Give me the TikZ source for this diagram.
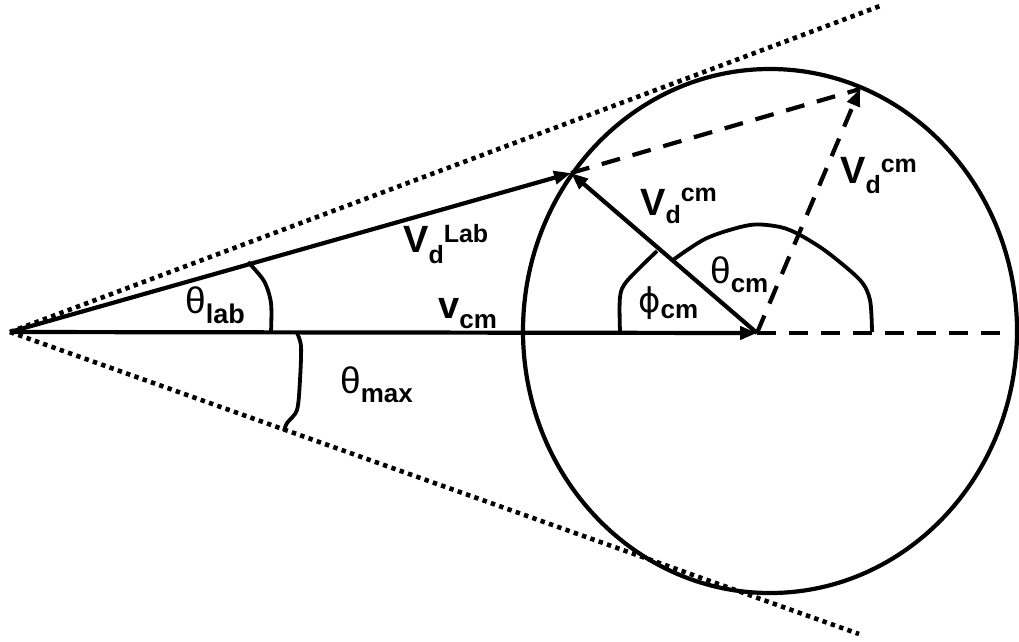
\documentclass[tikz,border=0pt]{standalone}
\usepackage{fontspec}
\setmainfont{Liberation Sans}
\newfontfamily\dejavu{DejaVu Sans}
\usetikzlibrary{arrows.meta}
\newcommand\fsz[1]{\fontsize{#1}{#1}\selectfont}
\tikzset{
  solidline/.style={line width=4.2pt},
  dashline/.style={line width=4.2pt, dash pattern=on 19pt off 13pt},
  dotline/.style={line width=4.6pt, dash pattern=on 4.4pt off 4.4pt},
  arcline/.style={line width=3.8pt, line join=round},
  tip/.style={-{Triangle[length=17pt,width=13pt]}},
  lbl/.style={anchor=base west, inner sep=0pt, font=\fsz{38}\bfseries},
}
\begin{document}
\begin{tikzpicture}[x=1pt,y=-1pt]
\useasboundingbox (0,0) rectangle (1019,641);
\coordinate (O) at (10,332);
\coordinate (C) at (757,333);
\coordinate (P) at (571,173);
\coordinate (Q) at (860,89);
\coordinate (E) at (1003,333);
\coordinate (T1) at (880,6);
\coordinate (T2) at (859,634);
\coordinate (M) at (770,331);
% circle (slightly elliptical)
\draw[solidline] (M) ellipse [x radius=247pt, y radius=262pt];
% dotted tangents
\draw[dotline] (O) -- (T1);
\draw[dotline] (O) -- (T2);
% dashed lines
\draw[dashline] (P) -- (Q);
\draw[dashline] (C) -- (E);
\draw[dashline, tip] (C) -- (Q);
% vectors
\draw[solidline, tip] (O) -- (C);
\draw[solidline, tip] (O) -- (P);
\draw[solidline, tip] (C) -- (P);
% angle arcs
\draw[arcline] plot[smooth, tension=0.5] coordinates {(271,332) (271,303) (264,281) (248,262)};
\draw[arcline] plot[smooth, tension=0.5] coordinates {(297,333) (301,346) (300,380) (297,410) (287,423) (284,431)};
\draw[arcline] plot[smooth, tension=0.5] coordinates {(620,332) (620,297) (627,281) (657,251)};
\draw[arcline] plot[smooth, tension=0.5] coordinates {(673,260) (707,238) (750,225) (780,227) (800,235) (827,252) (860,280) (870,300) (872,332)};
% labels
\node[lbl] (tlab) at (185,313) {\mdseries\fsz{37}θ\raisebox{-10pt}{\fsz{27}\bfseries lab}};
\node[lbl] (vlab) at (403,252) {V\raisebox{-11pt}{\fsz{25}d}\raisebox{10pt}{\fsz{25}Lab}};
\node[lbl] (vcm) at (438,318) {v\raisebox{-10pt}{\fsz{26}cm}};
\node[lbl] (tmax) at (340,393) {\mdseries\fsz{37}θ\raisebox{-9pt}{\fsz{26}\bfseries max}};
\node[lbl] (vdcm1) at (640,215) {V\raisebox{-8pt}{\fsz{25}d}\raisebox{14pt}{\fsz{25}cm}};
\node[lbl] (phicm) at (638,312) {\mdseries\dejavu\fsz{34}ϕ\raisebox{-6pt}{\fsz{26}\rmfamily\bfseries cm}};
\node[lbl] (tcm) at (710,283) {\mdseries\fsz{37}θ\raisebox{-9pt}{\fsz{26}\bfseries cm}};
\node[lbl] (vdcm2) at (840,183) {V\raisebox{-10pt}{\fsz{25}d}\raisebox{11pt}{\fsz{25}cm}};
\end{tikzpicture}
\end{document}
